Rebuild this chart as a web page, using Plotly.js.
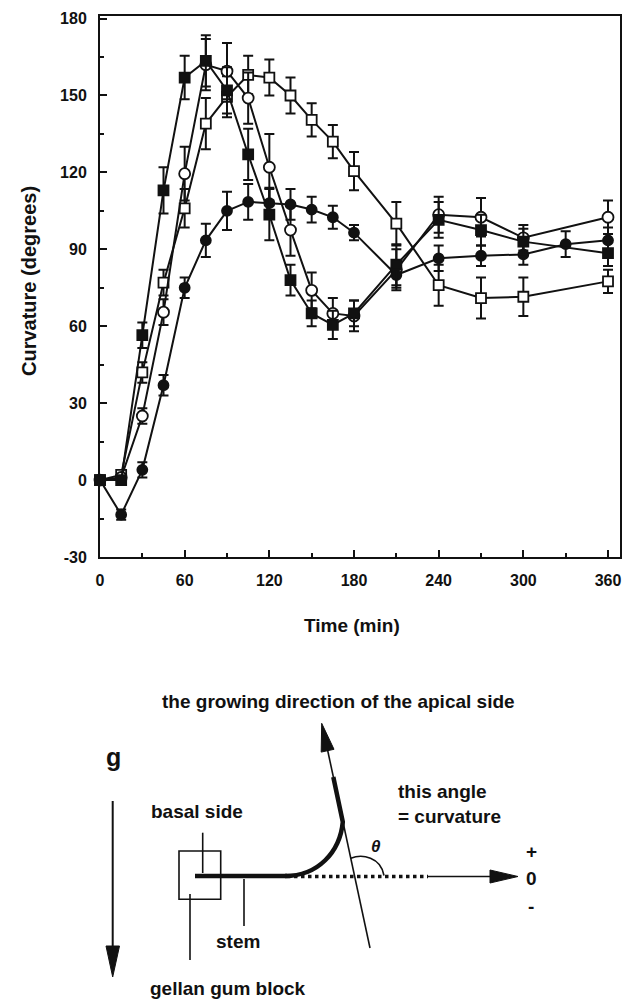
<!DOCTYPE html>
<html>
<head>
<meta charset="utf-8">
<script src="https://cdn.plot.ly/plotly-3.0.1.min.js"></script>
<style>html,body{margin:0;padding:0;background:#fff;}#chart{width:633px;height:1000px;}</style>
</head>
<body>
<div id="chart"></div>
<script>
// ---- data ----
const timeA = [0,15,30,45,60,75,90,105,120,135,150,165,180,210,240,270,300,360];
const timeB = [0,15,30,45,60,75,90,105,120,135,150,165,180,210,240,270,300,330,360];

const filledSquare = [0,0,56.5,113,157,163.5,152,127,103.5,78,65,60.5,65,84,101.5,97.5,93,88.5];
const filledSquareErr = [0,1.5,5,9,8.5,10,9,10,10,6,5,5.5,5,8,7,6,5,5];

const openSquare = [0,2,42,77,106,139,149.5,158,157,150,140.5,132,120.5,100,76,71,71.5,77.5];
const openSquareErr = [0,1.5,4,5,7.5,10,8,7.5,7,7,6.5,6.5,7.5,8.5,8,8,7.5,4.5];

const openCircle = [0,1,25,65.5,119.5,162,159.5,149,122,97.5,74,65,64,82,103.5,102.5,94.5,102.5];
const openCircleErr = [0,1.5,3,5,10.5,10,11,10,13,10,7,6,6,8,7,7.5,5,6.5];

const filledCircle = [0,-13.5,4,37,75,93.5,105,108.5,108,107.5,105.5,102.5,96.5,80,86.5,87.5,88,92,93.5];
const filledCircleErr = [0,2,3,4,4,6.5,7.5,7,6,6,5,4.5,3,5,5,4,4,5,5];

const xTickVals = [0,60,120,180,240,300,360];
const xTickText = ['0','60','120','180','240','300','360'];
const yTickVals = [-30,0,30,60,90,120,150,180];
const yTickText = ['-30','0','30','60','90','120','150','180'];

const xTitle = 'Time (min)';
const yTitle = 'Curvature (degrees)';
const diagramTitle = 'the growing direction of the apical side';

// ---- styles ----
const FONT = 'Liberation Sans, Arial, Helvetica, sans-serif';
const INK = '#111';
function errSpec(arr){ return {type:'data', array: arr, visible:true, color:INK, thickness:2, width:5}; }

function series(x, y, err, symbol, fill, size){
  return {
    x: x, y: y, type:'scatter', mode:'lines+markers',
    line:{color:INK, width:2},
    marker:{symbol: symbol, size: size, color: fill, line:{color:INK, width:1.8}},
    error_y: errSpec(err),
    hoverinfo:'skip', showlegend:false, cliponaxis:false
  };
}

const traces = [
  series(timeA, openSquare, openSquareErr, 'square', '#fff', 10),
  series(timeA, openCircle, openCircleErr, 'circle', '#fff', 11),
  series(timeB, filledCircle, filledCircleErr, 'circle', INK, 10),
  series(timeA, filledSquare, filledSquareErr, 'square', INK, 10),
  {x:[], y:[], xaxis:'x2', yaxis:'y2', type:'scatter', mode:'markers', showlegend:false, hoverinfo:'skip'}
];

// ---- schematic (drawn in a hidden pixel-space axis pair) ----
const S = {xref:'x2', yref:'y2'};
function ln(x0,y0,x1,y1,w,dash){ return Object.assign({type:'line', x0:x0,y0:y0,x1:x1,y1:y1, line:{color:INK,width:w,dash:dash||'solid'}}, S); }
function path(d,w,fill){ return Object.assign({type:'path', path:d, line:{color:INK,width:w}, fillcolor: fill||'rgba(0,0,0,0)'}, S); }

const shapes = [
  // gravity arrow
  ln(112.7, 801, 112.7, 950, 2),
  path('M 106,946 L 119.5,946 L 112.7,977 Z', 1, INK),
  // gellan gum block
  Object.assign({type:'rect', x0:179, x1:220.7, y0:851, y1:899.3, line:{color:INK,width:1.6}}, S),
  // leader lines
  ln(202.7, 832.7, 202.7, 873, 1.6),
  ln(190, 894, 190, 960, 1.6),
  ln(244, 879, 244, 926, 1.6),
  // stem (thick)
  ln(195, 876, 287, 876, 4.5),
  // curved part of the stem
  path('M 285,876 C 318,876 340,852 342.8,822 L 333.3,777', 4.5),
  // dotted continuation of the horizontal axis
  ln(287, 876.5, 428, 876.5, 3.5, 'dot'),
  // horizontal arrow
  ln(428, 876.5, 495, 876.5, 1.6),
  path('M 490,870 L 490,883 L 518,876.5 Z', 1, INK),
  // growing-direction arrow
  ln(370, 948, 326.5, 745, 1.6),
  path('M 334,749.3 L 321.2,752.1 L 321.7,723.3 Z', 1, INK),
  // angle arc
  path('M 350.8,858.3 C 362,853.5 381,857 384,875.5', 1.6)
];

function txt(x,y,t,size,extra){
  return Object.assign({x:x, y:y, text:t, showarrow:false, xanchor:'center', yanchor:'middle',
    font:{family:FONT, size:size, color:INK, weight:'bold'}}, S, extra||{});
}

const annotations = [
  txt(338, 701.7, diagramTitle, 19),
  txt(113, 757, 'g', 25),
  txt(196.7, 811.7, 'basal side', 19),
  txt(396, 791.7, 'this angle', 19, {xanchor:'left'}),
  txt(396, 816.7, '= curvature', 19, {xanchor:'left'}),
  txt(376, 846.5, '<i>θ</i>', 17),
  txt(531, 851.7, '+', 19),
  txt(531, 878.3, '0', 19),
  txt(531, 906, '-', 19),
  txt(238.3, 941.7, 'stem', 19),
  txt(228.3, 988.3, 'gellan gum block', 19),
  // axis titles for the plot (paper = whole figure since margins are 0)
  {x: 352/633, y: 1-625/1000, xref:'paper', yref:'paper', text:xTitle, showarrow:false,
   xanchor:'center', yanchor:'middle', font:{family:FONT, size:19, color:INK, weight:'bold'}},
  {x: 28.5/633, y: 1-281.5/1000, xref:'paper', yref:'paper', text:yTitle, showarrow:false, textangle:-90,
   xanchor:'center', yanchor:'middle', font:{family:FONT, size:20, color:INK, weight:'bold'}}
];

const layout = {
  width:633, height:1000,
  margin:{l:0, r:0, t:0, b:0, pad:0},
  paper_bgcolor:'#fff', plot_bgcolor:'#fff',
  showlegend:false,
  xaxis:{
    domain:[100/633, 620/633], range:[0, 368.5], anchor:'y',
    tickvals:xTickVals, ticktext:xTickText,
    ticks:'inside', ticklen:7, tickwidth:2, tickcolor:INK,
    minor:{dtick:30, tick0:0, ticks:'inside', ticklen:4, tickwidth:2, tickcolor:INK},
    showline:true, linecolor:INK, linewidth:2, mirror:true,
    showgrid:false, zeroline:false,
    tickfont:{family:FONT, size:16, color:INK, weight:'bold'}, ticklabelstandoff:8
  },
  yaxis:{
    domain:[1-557/1000, 1-16/1000], range:[-30, 181], anchor:'x',
    tickvals:yTickVals, ticktext:yTickText,
    ticks:'inside', ticklen:7, tickwidth:2, tickcolor:INK,
    minor:{dtick:15, tick0:0, ticks:'inside', ticklen:4, tickwidth:2, tickcolor:INK},
    showline:true, linecolor:INK, linewidth:2, mirror:true,
    showgrid:false, zeroline:false,
    tickfont:{family:FONT, size:16, color:INK, weight:'bold'}, ticklabelstandoff:8
  },
  xaxis2:{domain:[0,1], range:[0,633], anchor:'y2', visible:false, fixedrange:true},
  yaxis2:{domain:[0,0.35], range:[1000,650], anchor:'x2', visible:false, fixedrange:true},
  shapes: shapes,
  annotations: annotations
};

Plotly.newPlot('chart', traces, layout, {staticPlot:true, displayModeBar:false});
</script>
</body>
</html>
